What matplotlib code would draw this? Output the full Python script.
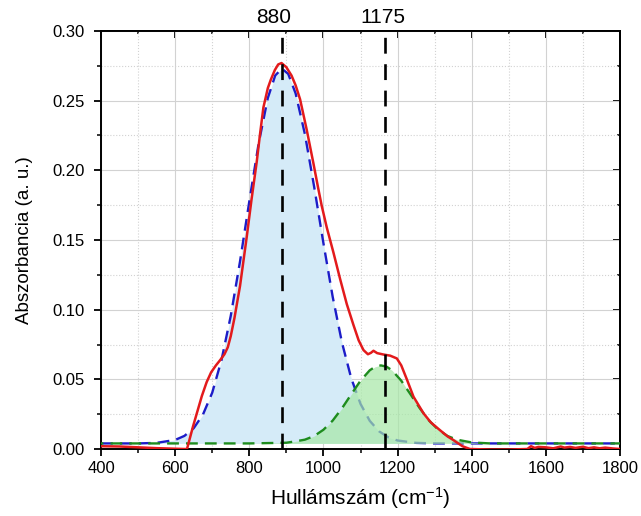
import matplotlib
matplotlib.use("Agg")
import matplotlib.pyplot as plt
from matplotlib.ticker import MultipleLocator, FormatStrFormatter

plt.rcParams['font.family'] = ['Liberation Sans', 'DejaVu Sans']
plt.rcParams['mathtext.default'] = 'regular'

# ---- data ----
red_x = [400, 450, 500, 550, 600, 625, 632, 648, 660, 672, 685, 697, 710, 722, 733,
         742, 750, 760, 775, 793, 806, 820, 829, 838, 850, 858, 869, 878, 887, 900,
         914, 925, 937, 955, 973, 986, 995, 1009, 1027, 1045, 1063, 1081, 1095,
         1108, 1120, 1128, 1135, 1145, 1162, 1180, 1198, 1210, 1225, 1243, 1270,
         1290, 1314, 1335, 1350, 1375, 1395, 1450, 1500, 1550, 1560, 1570, 1580,
         1600, 1620, 1640, 1650, 1665, 1680, 1700, 1715, 1730, 1745, 1760, 1780, 1800]
red_y = [0.002, 0.0018, 0.0012, 0.0006, 0.0002, 0.0, 0.0, 0.016, 0.027, 0.038, 0.048,
         0.055, 0.060, 0.064, 0.068, 0.073, 0.081, 0.094, 0.117, 0.152, 0.179, 0.206,
         0.226, 0.245, 0.259, 0.265, 0.272, 0.276, 0.277, 0.274, 0.268, 0.261, 0.251,
         0.229, 0.205, 0.187, 0.175, 0.159, 0.141, 0.122, 0.104, 0.089, 0.078, 0.071,
         0.068, 0.069, 0.0705, 0.0688, 0.0678, 0.067, 0.065, 0.060, 0.050, 0.0375,
         0.0256, 0.019, 0.0136, 0.009, 0.0065, 0.002, 0.0, -0.0004, -0.0004, 0.0,
         0.002, 0.0008, 0.0015, 0.0012, 0.0005, 0.0018, 0.001, 0.0015, 0.0008,
         0.0016, 0.0006, 0.0012, 0.0005, 0.001, 0.0004, 0.0]

blue_x = [400, 500, 550, 600, 625, 650, 675, 700, 725, 750, 775, 800, 825, 850, 870,
          888, 905, 925, 950, 975, 1000, 1025, 1050, 1075, 1100, 1125, 1150, 1175,
          1200, 1250, 1300, 1400, 1500, 1600, 1700, 1800]
blue_y = [0.004, 0.004, 0.0044, 0.0065, 0.0094, 0.0149, 0.0247, 0.0404, 0.0638,
          0.0955, 0.1346, 0.1776, 0.2189, 0.2519, 0.2681, 0.2730, 0.2692, 0.2552,
          0.2260, 0.1882, 0.1477, 0.1092, 0.0764, 0.0508, 0.0324, 0.0202, 0.0127,
          0.0084, 0.0061, 0.0044, 0.004, 0.004, 0.004, 0.004, 0.004, 0.004]

green_x = [400, 500, 600, 700, 800, 900, 925, 950, 975, 1000, 1025, 1050, 1075, 1100,
           1125, 1140, 1155, 1170, 1185, 1210, 1235, 1260, 1285, 1310, 1335, 1360,
           1400, 1450, 1500, 1600, 1700, 1800]
green_y = [0.004, 0.004, 0.004, 0.004, 0.004, 0.0045, 0.0055, 0.0067, 0.0093, 0.0138,
           0.0204, 0.0292, 0.0392, 0.0490, 0.0565, 0.0591, 0.0600, 0.0591, 0.0565,
           0.0490, 0.0392, 0.0292, 0.0204, 0.0138, 0.0093, 0.0067, 0.0047, 0.004,
           0.004, 0.004, 0.004, 0.004]

baseline = 0.004
peak_pos = [888, 1166]
peak_labels = ['880', '1175']
peak_label_pos = [867, 1161]

x_ticks = [400, 600, 800, 1000, 1200, 1400, 1600, 1800]
y_ticks = [0.00, 0.05, 0.10, 0.15, 0.20, 0.25, 0.30]

# ---- figure ----
fig = plt.figure(figsize=(6.41, 5.16), dpi=100)
ax = fig.add_axes([101 / 641, 1 - 449 / 516, (620 - 101) / 641, (449 - 31) / 516])

blue_c = '#1c1cc8'
green_c = '#1e8c1e'
red_c = '#e31a1c'

ax.fill_between(blue_x, baseline, blue_y, color='#d5ebf8', lw=0, zorder=1)
ax.plot(blue_x, blue_y, color=blue_c, lw=1.7, ls=(0, (5, 3)), zorder=2)
ax.fill_between(green_x, baseline, green_y, color='#a6e8a6', alpha=0.7, lw=0, zorder=3)
ax.plot(green_x, green_y, color=green_c, lw=1.7, ls=(4, (5, 3)), zorder=4)
ax.plot(red_x, red_y, color=red_c, lw=1.8, zorder=5)

for p in peak_pos:
    ax.plot([p, p], [0, 0.30], color='black', lw=1.9, ls=(0, (6, 4)), zorder=6,
            clip_on=False)
for lp, lab in zip(peak_label_pos, peak_labels):
    ax.annotate(lab, xy=(lp, 0.30), xytext=(0, 3), textcoords='offset points',
                ha='center', va='bottom', fontsize=15)

ax.set_xlim(400, 1800)
ax.set_ylim(0, 0.30)
ax.set_xticks(x_ticks)
ax.set_yticks(y_ticks)
ax.xaxis.set_minor_locator(MultipleLocator(100))
ax.yaxis.set_minor_locator(MultipleLocator(0.025))
ax.yaxis.set_major_formatter(FormatStrFormatter('%.2f'))

ax.grid(which='major', color='#d2d2d2', lw=0.8, ls='-', zorder=0)
ax.grid(which='minor', color='#d2d2d2', lw=0.8, ls=':', zorder=0)
ax.set_axisbelow(True)

ax.tick_params(which='major', direction='out', length=5, width=1.3, labelsize=12)
ax.tick_params(axis='y', which='major', pad=7)
ax.tick_params(axis='x', which='major', pad=3.5)
ax.tick_params(which='minor', direction='out', length=3, width=1.1)

for s in ax.spines.values():
    s.set_linewidth(1.4)

# mirrored inward ticks on top and right
top = ax.secondary_xaxis('top')
top.set_xticks(x_ticks)
top.xaxis.set_minor_locator(MultipleLocator(100))
top.tick_params(which='major', direction='in', length=5, width=1.3, labeltop=False)
top.tick_params(which='minor', direction='in', length=2.5, width=1.1)
top.spines['top'].set_linewidth(1.4)

right = ax.secondary_yaxis('right')
right.set_yticks(y_ticks)
right.yaxis.set_minor_locator(MultipleLocator(0.025))
right.tick_params(which='major', direction='in', length=5, width=1.3, labelright=False)
right.tick_params(which='minor', direction='in', length=2.5, width=1.1)
right.spines['right'].set_linewidth(1.4)

ax.set_xlabel('Hullámszám (cm$^{-1}$)', fontsize=15, labelpad=7)
ax.set_ylabel('Abszorbancia (a. u.)', fontsize=13.5, labelpad=14)

fig.savefig('out.png', dpi=100)
